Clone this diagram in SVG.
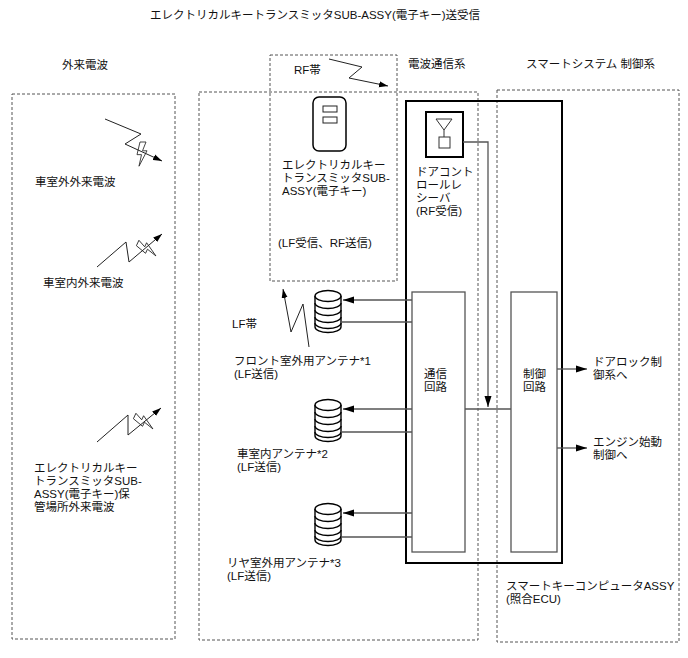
<svg xmlns="http://www.w3.org/2000/svg" xmlns:xlink="http://www.w3.org/1999/xlink" width="688" height="658" viewBox="0 0 688 658">
<style>
text{font-family:"Liberation Sans","Noto Sans CJK JP",sans-serif;font-size:11.5px;fill:#111}
.dash{fill:none;stroke:#555;stroke-width:1;stroke-dasharray:3 2}
.thick{fill:none;stroke:#000;stroke-width:2}
.box{fill:#fff;stroke:#555;stroke-width:1.3}
.conn{fill:none;stroke:#555;stroke-width:1.3}
.zig{fill:none;stroke:#222;stroke-width:1}
.bolt{fill:#fff;stroke:#222;stroke-width:0.8}
.cyl{fill:#fff;stroke:#000;stroke-width:1.4}
</style>
<defs>
<marker id="arr" markerUnits="userSpaceOnUse" markerWidth="12" markerHeight="8" refX="11" refY="4" orient="auto"><path d="M0,0.5 L11,4 L0,7.5 Z" fill="#000"/></marker>
<marker id="arrs" markerUnits="userSpaceOnUse" markerWidth="10" markerHeight="7" refX="9" refY="3.5" orient="auto"><path d="M0,0.5 L9,3.5 L0,6.5 Z" fill="#000"/></marker>
<g id="cyl">
<path class="cyl" d="M0,6 A13,5.5 0 0 1 26,6 V37 A13,5.5 0 0 1 0,37 Z"/>
<path class="cyl" fill="none" d="M0,6 A13,5.5 0 0 0 26,6 M0,13 A13,5.5 0 0 0 26,13 M0,20 A13,5.5 0 0 0 26,20 M0,27 A13,5.5 0 0 0 26,27 M0,33 A13,5.5 0 0 0 26,33"/>
</g>
<polygon id="bolt" class="bolt" points="4,0 10,0 6.5,8 11,8 3,22 5.5,11.5 1,11.5"/>
</defs>

<text x="150" y="19">エレクトリカルキートランスミッタSUB-ASSY(電子キー)送受信</text>

<g id="headers">
<text x="62" y="69">外来電波</text>
<text x="408" y="68">電波通信系</text>
<text x="526" y="68">スマートシステム 制御系</text>
</g>

<g id="zone-left">
<rect class="dash" x="12" y="94" width="163" height="545"/>
</g>
<g id="zone-middle">
<rect class="dash" x="199" y="92" width="279" height="548"/>
</g>
<g id="zone-right">
<rect class="dash" x="497" y="90" width="182" height="552"/>
</g>

<g id="rf-zone">
<rect class="dash" x="270" y="55" width="127" height="226"/>
<text x="294" y="74">RF帯</text>
</g>

<g id="wave-outside">
<use href="#bolt" transform="translate(136,142) scale(1,1.1)"/>
<polyline class="zig" points="105,119 141,134 125,144 162,161" marker-end="url(#arrs)"/>
<text x="35" y="186">車室外外来電波</text>
</g>

<g id="wave-inside">
<use href="#bolt" transform="translate(147,249) rotate(-65) translate(-5.5,-11)"/>
<polyline class="zig" points="97,267 126,242 129,262 162,234" marker-end="url(#arrs)"/>
<text x="43" y="287">車室内外来電波</text>
</g>

<g id="wave-storage">
<use href="#bolt" transform="translate(144,422) rotate(-65) translate(-5.5,-11)"/>
<polyline class="zig" points="97,442 128,415 128,435 161,408" marker-end="url(#arrs)"/>
<text x="34" y="472">エレクトリカルキー</text>
<text x="34" y="485">トランスミッタSUB-</text>
<text x="34" y="498">ASSY(電子キー)保</text>
<text x="34" y="511">管場所外来電波</text>
</g>

<g id="key">
<rect x="313" y="97" width="33" height="54" rx="6" fill="#fff" stroke="#000" stroke-width="1.5"/>
<rect x="323" y="106" width="14" height="6" fill="#fff" stroke="#222" stroke-width="1"/>
<rect x="323" y="117" width="14" height="6" fill="#fff" stroke="#222" stroke-width="1"/>
<text x="282" y="169">エレクトリカルキー</text>
<text x="282" y="182">トランスミッタSUB-</text>
<text x="282" y="195">ASSY(電子キー)</text>
<text x="278" y="247">(LF受信、RF送信)</text>
</g>

<g id="ecu-frame">
<rect class="thick" x="406" y="101" width="156" height="462"/>
</g>

<g id="receiver">
<rect x="426" y="112" width="37" height="45" fill="#fff" stroke="#000" stroke-width="2"/>
<path d="M436,119 L452,119 L444,130 Z M444,130 V137" fill="none" stroke="#333" stroke-width="1"/>
<rect x="439" y="137" width="11" height="11" fill="#fff" stroke="#333" stroke-width="1"/>
<text x="416" y="176">ドアコント</text>
<text x="416" y="189">ロールレ</text>
<text x="416" y="202">シーバ</text>
<text x="416" y="215">(RF受信)</text>
</g>

<g id="comm-circuit">
<rect class="box" x="412" y="292" width="53" height="260"/>
<text x="424" y="378">通信</text>
<text x="424" y="391">回路</text>
</g>

<g id="ctrl-circuit">
<rect class="box" x="511" y="292" width="46" height="260"/>
<text x="523" y="378">制御</text>
<text x="523" y="391">回路</text>
</g>

<g id="antenna1">
<use href="#cyl" x="315" y="290"/>
<text x="232" y="328">LF帯</text>
<text x="234" y="365">フロント室外用アンテナ*1</text>
<text x="234" y="378">(LF送信)</text>
</g>
<g id="antenna2">
<use href="#cyl" x="315" y="399"/>
<text x="237" y="458">車室内アンテナ*2</text>
<text x="237" y="471">(LF送信)</text>
</g>
<g id="antenna3">
<use href="#cyl" x="315" y="503"/>
<text x="227" y="567">リヤ室外用アンテナ*3</text>
<text x="227" y="580">(LF送信)</text>
</g>

<g id="ecu-label">
<text x="506" y="590">スマートキーコンピュータASSY</text>
<text x="506" y="603">(照合ECU)</text>
</g>

<g id="outputs">
<text x="593" y="366">ドアロック制</text>
<text x="593" y="379">御系へ</text>
<text x="593" y="446">エンジン始動</text>
<text x="593" y="459">制御へ</text>
</g>

<g id="connectors">
<polyline class="zig" points="329,59 362,67 349,78 388,86" marker-end="url(#arrs)"/>
<polyline class="zig" points="309,347 303,304 291,332 283,289" marker-end="url(#arrs)"/>
<line class="conn" x1="412" y1="300" x2="343" y2="300" marker-end="url(#arr)"/>
<line class="conn" x1="412" y1="322" x2="341" y2="322"/>
<line class="conn" x1="412" y1="409" x2="343" y2="409" marker-end="url(#arr)"/>
<line class="conn" x1="412" y1="432" x2="341" y2="432"/>
<line class="conn" x1="412" y1="513" x2="343" y2="513" marker-end="url(#arr)"/>
<line class="conn" x1="412" y1="537" x2="341" y2="537"/>
<polyline class="conn" points="463,142 488,142 488,407" marker-end="url(#arr)"/>
<line class="conn" x1="465" y1="409" x2="511" y2="409"/>
<line class="conn" x1="557" y1="369" x2="587" y2="369" marker-end="url(#arr)"/>
<line class="conn" x1="557" y1="448" x2="587" y2="448" marker-end="url(#arr)"/>
</g>
</svg>
